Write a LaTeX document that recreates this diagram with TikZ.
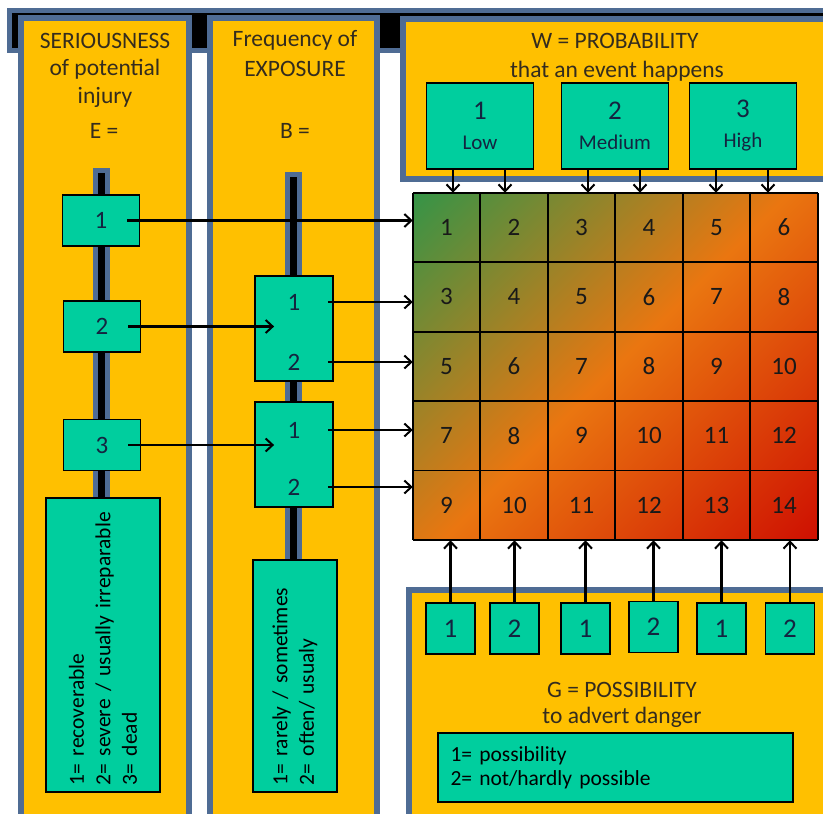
\documentclass[tikz,border=0pt]{standalone}
\usepackage{fontspec}
\setmainfont{Carlito}
\usetikzlibrary{arrows.meta, positioning}

\definecolor{panelyellow}{RGB}{255,192,0}
\definecolor{panelblue}{RGB}{79,108,148}
\definecolor{boxteal}{RGB}{0,206,158}
\definecolor{labelblue}{RGB}{20,36,64}
\definecolor{headgray}{RGB}{52,44,30}
\definecolor{riskgreen}{RGB}{40,150,75}
\definecolor{riskorange}{RGB}{234,118,16}
\definecolor{riskred}{RGB}{204,8,0}
\pgfdeclareverticalshading{riskshade}{100bp}{color(0bp)=(riskred); color(12bp)=(riskred);
  color(50bp)=(riskorange); color(88bp)=(riskgreen); color(100bp)=(riskgreen)}

\begin{document}
\begin{tikzpicture}[x=1pt, y=-1pt,
    panel/.style = {draw=panelblue, line width=6pt, fill=panelyellow},
    rail/.style = {draw=panelblue, line width=5pt, fill=black},
    head/.style = {anchor=base, inner sep=0pt, text=headgray, font=\fontsize{23.5}{28}\selectfont},
    box/.style = {draw, line width=1.8pt, fill=boxteal, inner sep=0pt, text=labelblue, font=\fontsize{25}{25}\selectfont},
    ebox/.style = {box, minimum width=77pt, minimum height=51pt},
    bbox/.style = {box, minimum width=78pt, minimum height=105pt},
    wbox/.style = {box, minimum width=107pt, minimum height=86pt, align=center, font=\fontsize{21}{30}\selectfont},
    gbox/.style = {box, minimum width=49pt, minimum height=51pt, font=\fontsize{27}{27}\selectfont},
    lbl/.style = {inner sep=0pt, text=labelblue, font=\fontsize{25}{25}\selectfont},
    legend/.style = {box, text=black, align=left, font=\fontsize{21.5}{26.5}\selectfont},
    cellnum/.style = {inner sep=0pt, text=black!90, font=\fontsize{25}{25}\selectfont},
    gridline/.style = {line width=1.8pt, black},
    arr/.style = {-{Straight Barb[length=7pt,width=13pt,line width=2pt]}, line width=2.2pt}]

  \useasboundingbox (0,0) rectangle (823,814);

  % frame and panels
  \draw[rail] (9.5,10.5) rectangle (840,50.5);
  \draw[panel] (21,18) rectangle (189,840);
  \draw[panel] (210,18) rectangle (377,840);
  \draw[panel] (403,19) rectangle (840,179);
  \draw[panel] (409,590) rectangle (840,840);
  \draw[rail] (95.5,170.5) rectangle (107.5,500);
  \draw[rail] (287.5,174.5) rectangle (299.5,565);

  % headings
  \node[head] (etitle1) at (105,48) {SERIOUSNESS};
  \node[head] (etitle2) at (105,75.5) {of potential};
  \node[head] (etitle3) at (105,103) {injury};
  \node[head] (evar) at (104,138) {E =};
  \node[head] (btitle1) at (295,46) {Frequency of};
  \node[head] (btitle2) at (295,76) {EXPOSURE};
  \node[head] (bvar) at (295,138) {B =};
  \node[head] (wtitle1) at (615,48) {W = PROBABILITY};
  \node[head] (wtitle2) at (617,77) {that an event happens};
  \node[head] (gtitle1) at (622,697) {G = POSSIBILITY};
  \node[head] (gtitle2) at (622,723) {to advert danger};

  % E = seriousness
  \node[ebox] (e1) at (101,220.5) {1};
  \node[ebox] (e2) at (102,326.5) {2};
  \node[ebox] (e3) at (102,445)   {3};
  \node[legend, rotate=90, minimum width=294pt, minimum height=114pt, text width=280pt] (elegend) at (103,645)
    {1= recoverable\\2= severe / usually irreparable\\3= dead};

  % B = exposure
  \node[bbox] (b1) at (294,328.5) {};
  \node[bbox] (b2) at (294,454.5) {};
  \node[lbl] (b1one) at (294,302) {1};
  \node[lbl] (b1two) at (294,362) {2};
  \node[lbl] (b2one) at (294,430) {1};
  \node[lbl] (b2two) at (294,487) {2};
  \node[legend, rotate=90, minimum width=232pt, minimum height=84pt, text width=218pt] (blegend) at (295,676)
    {1= rarely / sometimes\\2= often/ usualy};

  % W = probability
  \node[wbox] (w1) at (480,126) {{\fontsize{27}{30}\selectfont 1}\\Low};
  \node[wbox] (w2) at (615,126) {{\fontsize{27}{30}\selectfont 2}\\Medium};
  \node[wbox] (w3) at (743,126) {{\fontsize{27}{30}\selectfont 3}\\High};

  % risk grid
  \node[minimum width=405pt, minimum height=347pt, inner sep=0pt, shading=riskshade, shading angle=45] (grid) at (615.5,366.5) {};
  \foreach \c in {0,...,6}
    \draw[gridline] ([xshift=\c*67.5pt]grid.north west) -- ([xshift=\c*67.5pt]grid.south west);
  \foreach \r in {0,...,5}
    \draw[gridline] ([yshift=-\r*69.4pt]grid.north west) -- ([yshift=-\r*69.4pt]grid.north east);
  \foreach \r in {0,...,4}
    \foreach \c in {0,...,5} {
      \pgfmathtruncatemacro\v{1+\c+2*\r}
      \node[cellnum] (cell-\r-\c) at ([xshift={(\c+0.5)*67.5pt}, yshift={-(\r+0.5)*69.4pt}]grid.north west) {\v};
    }

  % G = possibility
  \node[gbox] (g1) at (450.5,628.5) {1};
  \node[gbox] (g2) at (514.5,628.5) {2};
  \node[gbox] (g3) at (585.5,628.5) {1};
  \node[gbox] (g4) at (653.5,627) {2};
  \node[gbox] (g5) at (721.5,628.5) {1};
  \node[gbox] (g6) at (790,628.5) {2};
  \node[legend, minimum width=355pt, minimum height=69pt, text width=330pt, font=\fontsize{21.5}{24}\selectfont] (glegend) at (615.5,767.5)
    {1= possibility\\2= not/hardly possible};

  % arrows
  \draw[arr] ([xshift=26pt]e1.center) -- (grid.west |- e1);
  \draw[arr] ([xshift=26pt]e2.center) -- ([xshift=20pt]b1.west |- e2);
  \draw[arr] ([xshift=26pt]e3.center) -- ([xshift=20pt]b2.west |- e3);
  \foreach \l in {b1one,b1two,b2one,b2two}
    \draw[arr] ([xshift=-6pt]b1.east |- \l) -- (grid.west |- \l);
  \foreach \w in {w1,w2,w3} {
    \draw[arr] ([xshift=-27pt]\w.south) -- ([xshift=-27pt]\w.south |- grid.north);
    \draw[arr] ([xshift=25pt]\w.south) -- ([xshift=25pt]\w.south |- grid.north);
  }
  \foreach \g in {g1,g2,g3,g4,g5,g6}
    \draw[arr] (\g.north) -- (\g |- grid.south);
\end{tikzpicture}
\end{document}
